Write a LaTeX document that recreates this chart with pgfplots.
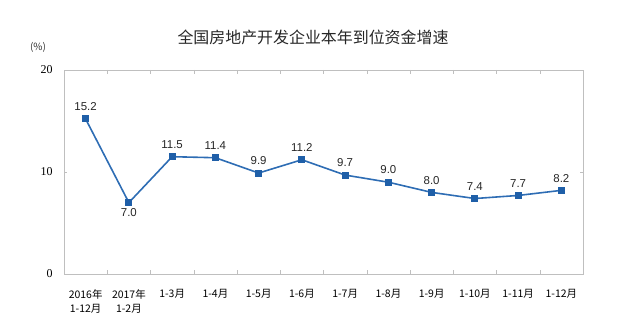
\documentclass[border=0pt]{standalone}
\usepackage{pgfplots}
\pgfplotsset{compat=1.18}
\usepackage{fontspec}
\setmainfont{Liberation Serif}
\newfontfamily\cjk{Noto Sans CJK SC}
\newfontfamily\arial{Liberation Sans}
\definecolor{lineblue}{HTML}{2E6DB4}
\definecolor{markblue}{HTML}{1F5FA8}
\definecolor{axgray}{HTML}{BFBFBF}
\begin{document}
\begin{tikzpicture}[x=1bp,y=1bp]
\path[use as bounding box] (0,0) rectangle (625,333);
\begin{axis}[
  at={(64bp,59bp)}, anchor=south west,
  scale only axis, width=519bp, height=204bp,
  xmin=-0.5, xmax=11.5, ymin=0, ymax=20,
  axis line style={axgray},
  ytick={0,10,20},
  yticklabel style={font=\fontsize{12}{13}\selectfont, xshift=-8bp},
  /pgf/number format/assume math mode=true,
  xtick={0,...,11},
  xticklabels={{\cjk 2016年\\\cjk 1-12月},{\cjk 2017年\\\cjk 1-2月},{\cjk 1-3月},{\cjk 1-4月},{\cjk 1-5月},{\cjk 1-6月},{\cjk 1-7月},{\cjk 1-8月},{\cjk 1-9月},{\cjk 1-10月},{\cjk 1-11月},{\cjk 1-12月}},
  xticklabel style={font=\fontsize{10.5}{14}\selectfont, align=center, anchor=north, yshift=-12bp},
  minor xtick={0.5,1.5,...,10.5},
  major x tick style={draw=none},
  minor x tick style={axgray},
  minor tick length=4bp,
  tick align=inside,
  ytick style={axgray},
  major tick length=3bp,
  clip=false,
  nodes near coords,
  nodes near coords style={font=\arial\fontsize{11.5}{12}\selectfont, color=black!85, yshift=4bp},
  point meta=explicit symbolic,
]
\addplot[lineblue, line width=1.6bp, mark=square*, mark size=2.7bp, mark options={markblue}]
  coordinates {(0,15.2)[15.2] (1,7.0)[] (2,11.5)[11.5] (3,11.4)[11.4] (4,9.9)[9.9] (5,11.2)[11.2] (6,9.7)[9.7] (7,9.0)[9.0] (8,8.0)[8.0] (9,7.4)[7.4] (10,7.7)[7.7] (11,8.2)[8.2]};
\addplot[draw=none, mark=none, nodes near coords style={anchor=north, yshift=-6bp}]
  coordinates {(1,7.0)[7.0]};
\end{axis}
\node[font=\cjk\fontsize{16}{17}\selectfont, text=black!85] at (313,296) {全国房地产开发企业本年到位资金增速};
\node[font=\cjk\fontsize{10}{11}\selectfont, text=black!80] at (38,286) {(\%)};
\end{tikzpicture}
\end{document}
